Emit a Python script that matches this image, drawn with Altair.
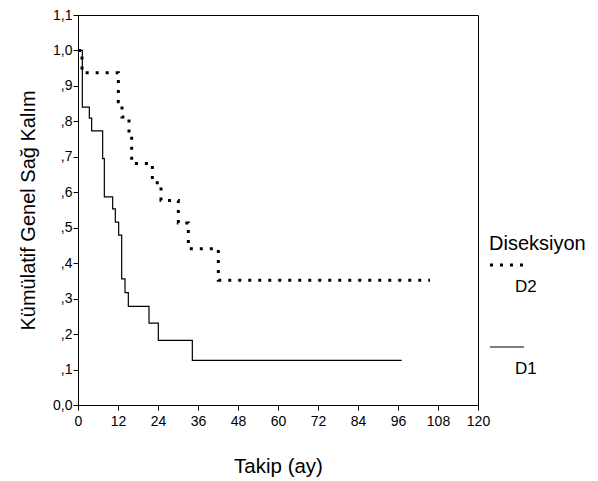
import altair as alt
import pandas as pd

# D1 (solid) Kaplan-Meier steps
d1_months = [0, 1.3, 3.4, 4.1, 7.4, 7.9, 10.4, 11.2, 12.2, 13.1, 14.1, 15.1, 21.3, 24.1, 34.3, 97.1]
d1_surv = [1.0, 0.84, 0.809, 0.773, 0.695, 0.587, 0.553, 0.516, 0.479, 0.356, 0.317, 0.278, 0.231, 0.182, 0.126, 0.126]

# D2 (dotted) Kaplan-Meier steps
d2_months = [0, 1.2, 12.1, 13.2, 15.3, 16.1, 22.3, 24.9, 30.1, 33.1, 42.1, 105.6]
d2_surv = [1.0, 0.937, 0.855, 0.812, 0.773, 0.681, 0.627, 0.577, 0.513, 0.441, 0.352, 0.352]

x_ticks = [0, 12, 24, 36, 48, 60, 72, 84, 96, 108, 120]
y_ticks = [0.0, 0.1, 0.2, 0.3, 0.4, 0.5, 0.6, 0.7, 0.8, 0.9, 1.0, 1.1]

FONT = "Liberation Sans"

df1 = pd.DataFrame({"t": d1_months, "s": d1_surv})
df2 = pd.DataFrame({"t": d2_months, "s": d2_surv})

x_enc = alt.X("t:Q", scale=alt.Scale(domain=[0, 120], nice=False, zero=True),
              axis=alt.Axis(values=x_ticks, title="Takip (ay)", grid=False,
                            labelFlush=False, labelFontSize=14, titleFontSize=20.5,
                            labelPadding=4, titlePadding=28, tickSize=5,
                            labelFont=FONT, titleFont=FONT, titleFontWeight="normal",
                            domainColor="black", tickColor="black",
                            labelColor="black", titleColor="black"))
y_enc = alt.Y("s:Q", scale=alt.Scale(domain=[0, 1.1], nice=False),
              axis=alt.Axis(values=y_ticks, title="Kümülatif Genel Sağ Kalım", grid=False,
                            labelExpr="datum.value < 0.05 ? '0,0' : (datum.value >= 0.95 ? replace(format(datum.value, '.1f'), '.', ',') : replace(format(datum.value, '.1f'), '0.', ','))",
                            labelFontSize=14, titleFontSize=20, labelPadding=1,
                            titlePadding=14, tickSize=5, labelFlush=False,
                            labelFont=FONT, titleFont=FONT, titleFontWeight="normal",
                            domainColor="black", tickColor="black",
                            labelColor="black", titleColor="black"))

line1 = alt.Chart(df1).mark_line(interpolate="step-after", color="black", strokeWidth=1.2).encode(
    x=x_enc, y=y_enc)
line2 = alt.Chart(df2).mark_line(interpolate="step-after", color="black", strokeWidth=3,
                                 strokeDash=[3, 7], strokeCap="butt").encode(x=x_enc, y=y_enc)

# Custom legend (outside plot area, to the right)
leg_title = alt.Chart(pd.DataFrame({"l": ["Diseksiyon"]})).mark_text(
    align="left", baseline="middle", fontSize=20, font=FONT, color="black").encode(
    x=alt.value(411), y=alt.value(229), text="l:N")
leg_d2_line = alt.Chart(pd.DataFrame({"a": [0]})).mark_rule(
    color="black", strokeWidth=3, strokeDash=[3, 7], strokeCap="butt").encode(
    x=alt.value(412), x2=alt.value(446), y=alt.value(250))
leg_d2_text = alt.Chart(pd.DataFrame({"l": ["D2"]})).mark_text(
    align="left", baseline="middle", fontSize=17, font=FONT, color="black").encode(
    x=alt.value(437), y=alt.value(272), text="l:N")
leg_d1_line = alt.Chart(pd.DataFrame({"a": [0]})).mark_rule(
    color="black", strokeWidth=1.2).encode(
    x=alt.value(412), x2=alt.value(446), y=alt.value(332))
leg_d1_text = alt.Chart(pd.DataFrame({"l": ["D1"]})).mark_text(
    align="left", baseline="middle", fontSize=17, font=FONT, color="black").encode(
    x=alt.value(437), y=alt.value(354), text="l:N")

chart = alt.layer(line1, line2, leg_title, leg_d2_line, leg_d2_text, leg_d1_line, leg_d1_text).properties(
    width=400, height=390,
    padding={"left": 10, "top": 0, "right": 0, "bottom": 0},
    background="white",
).configure_view(stroke="black", strokeWidth=1)

chart.save("out.html", embed_options={"renderer": "svg", "actions": False})
